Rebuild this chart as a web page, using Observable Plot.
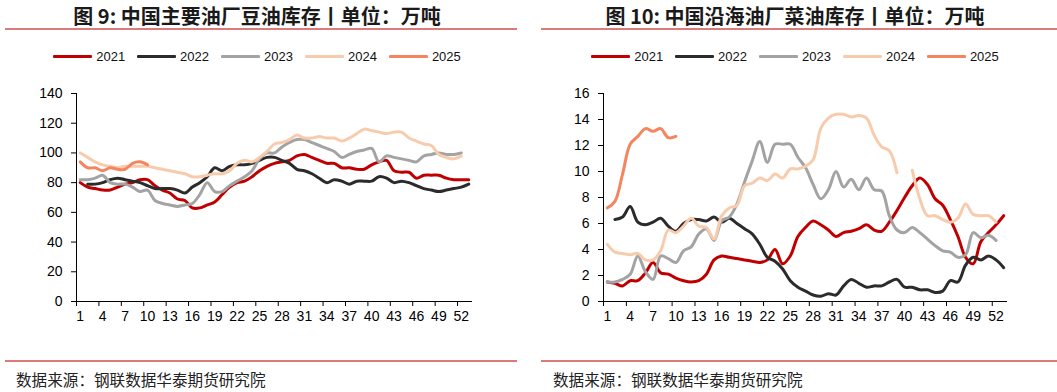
<!DOCTYPE html>
<html><head><meta charset="utf-8">
<script src="https://cdn.jsdelivr.net/npm/d3@7"></script>
<script src="https://cdn.jsdelivr.net/npm/@observablehq/plot@0.6"></script>
<style>
body{margin:0;background:#fff;}
#root{position:relative;width:1057px;height:392px;overflow:hidden;background:#fff;}
.title{position:absolute;top:3px;font-family:"Noto Sans CJK SC";font-weight:bold;font-size:20px;line-height:26px;color:#1a1a1a;text-align:center;white-space:nowrap;}
.rule{position:absolute;height:2px;background:#dc7b7b;}
.legend{position:absolute;top:47px;height:18px;display:flex;justify-content:center;align-items:center;font-family:"Liberation Sans",Arial,sans-serif;font-size:13px;color:#111;}
.legend .item{display:flex;align-items:center;margin:0 6px;}
.legend .sw{display:inline-block;width:39px;height:3px;margin-right:4px;border-radius:1px;}
.src{position:absolute;top:369px;font-family:"Noto Sans CJK SC";font-size:15.6px;line-height:20px;color:#222;white-space:nowrap;}
.chart{position:absolute;top:80px;}
</style>
</head><body>
<div id="root"></div>
<script>
// ---------- data ----------
const years = ["2021", "2022", "2023", "2024", "2025"];
const colors = ["#C00000", "#2B2B2B", "#A3A3A3", "#F8CBAD", "#F4865F"];
const weeks = d3.range(1, 54);
const xTickLabels = [1, 4, 7, 10, 13, 16, 19, 22, 25, 28, 31, 34, 37, 40, 43, 46, 49, 52];
const soyYTicks = [0, 20, 40, 60, 80, 100, 120, 140];
const rapeYTicks = [0, 2, 4, 6, 8, 10, 12, 14, 16];

// Figure 9: soybean oil inventory (10k t), weeks 1-53
const soy2021 = [80,77,76,75,75,77,79,80,82,82, 78,75,73,69,68,63,63,65,67,72, 77,80,81,84,88,91,93,94,95,98, 99,97,95,93,93,90,90,89,89,92, 94,95,88,87,87,83,85,85,85,83, 82,82,82];
const soy2022 = [null,79,79,80,82,83,82,81,80,78, 76,76,76,75,73,77,80,84,90,88, 91,92,92,93,95,97,97,95,93,89, 88,86,83,80,82,81,79,81,81,81, 84,83,80,81,80,78,76,75,74,75, 76,77,79];
const soy2023 = [82,82,83,85,80,79,79,77,74,75, 68,66,65,64,65,66,72,80,74,74, 78,81,84,88,96,100,100,104,107,109, 109,107,105,103,101,97,99,101,102,103, 94,98,97,96,95,94,98,99,100,99, 99,100,null];
const soy2024 = [100,97,94,92,91,90,91,91,91,91, 90,89,88,87,86,84,84,85,86,86, 88,93,95,94,97,101,106,107,109,112, 110,110,111,110,110,108,110,113,116,115, 114,113,114,114,110,108,106,105,99,97, 96,98,null];
const soy2025 = [94,90,90,88,90,89,89,93,94,92];

// Figure 10: rapeseed oil inventory (10k t), weeks 1-53
const rape2021 = [1.5,1.4,1.2,1.6,1.6,2.2,3.0,2.2,2.1,1.8, 1.6,1.5,1.6,2.1,3.2,3.5,3.4,3.3,3.2,3.1, 3.0,3.2,4.0,2.9,3.5,5.0,5.7,6.2,5.9,5.5, 5.0,5.3,5.4,5.6,5.9,5.5,5.4,6.1,7.0,8.0, 8.9,9.5,9.0,7.9,7.4,6.3,5.0,3.4,2.9,4.6, 5.3,5.9,6.6];
const rape2022 = [null,6.3,6.5,7.3,6.1,5.9,6.1,6.4,5.8,5.4, 6.0,6.3,6.3,6.2,6.5,6.1,6.4,6.0,5.6,5.2, 4.4,3.4,3.1,2.5,1.6,1.1,0.8,0.5,0.4,0.6, 0.5,1.2,1.7,1.4,1.1,1.2,1.2,1.5,1.7,1.1, 1.1,0.9,0.9,0.7,0.8,1.6,1.5,2.8,3.4,3.2, 3.5,3.2,2.6];
const rape2023 = [1.5,1.5,1.7,2.1,3.5,2.3,1.7,3.5,3.3,3.0, 3.9,4.2,5.2,5.6,4.7,6.2,6.5,7.5,9.2,10.8, 12.3,10.7,12.1,12.1,12.1,11.1,10.3,9.0,7.9,8.6, 10.0,8.8,9.4,8.6,9.5,8.6,8.5,6.6,5.5,5.3, 5.7,5.3,4.8,4.3,3.9,3.8,3.4,3.6,5.3,4.9, 5.1,4.7,null];
const rape2024 = [4.4,3.8,3.7,3.6,3.7,3.2,3.2,3.9,5.5,5.3, 5.8,6.4,5.8,5.7,4.8,6.6,7.2,7.4,8.9,9.1, 9.5,9.3,9.8,9.5,10.2,10.2,10.4,10.9,13.3,14.1, 14.4,14.4,14.2,14.3,14.1,12.8,11.9,11.6,9.9,null, 10.1,7.9,6.6,6.6,6.3,6.1,6.4,7.5,6.7,6.6, 6.6,6.1,null];
const rape2025 = [7.2,7.7,9.8,12.1,12.7,13.3,13.1,13.3,12.6,12.7];

const panels = [
  {left: 5, right: 509, plotLeft: 0, plotWidth: 528, mL: 76, mR: 56,
   title: "图 9: 中国主要油厂豆油库存丨单位：万吨", yTicks: soyYTicks, yMax: 140,
   series: [soy2021, soy2022, soy2023, soy2024, soy2025], srcX: 16},
  {left: 541, right: 1049, plotLeft: 528, plotWidth: 529, mL: 75, mR: 50,
   title: "图 10: 中国沿海油厂菜油库存丨单位：万吨", yTicks: rapeYTicks, yMax: 16,
   series: [rape2021, rape2022, rape2023, rape2024, rape2025], srcX: 553}
];

const root = document.getElementById("root");
const boundaryTicks = xTickLabels.map(d => d - 0.5);

for (const p of panels) {
  const t = document.createElement("div");
  t.className = "title";
  t.style.left = p.left + "px"; t.style.width = (p.right - p.left) + "px";
  t.textContent = p.title;
  root.appendChild(t);

  const r1 = document.createElement("div");
  r1.className = "rule"; r1.style.left = p.left + "px"; r1.style.top = "28px";
  r1.style.width = (Math.min(p.right + 8, 1057) - p.left) + "px";
  root.appendChild(r1);

  const lg = document.createElement("div");
  lg.className = "legend";
  lg.style.left = p.left + "px"; lg.style.width = (p.right - p.left) + "px";
  years.forEach((y, i) => {
    const it = document.createElement("span"); it.className = "item";
    const sw = document.createElement("span"); sw.className = "sw"; sw.style.background = colors[i];
    it.appendChild(sw); it.appendChild(document.createTextNode(y));
    lg.appendChild(it);
  });
  root.appendChild(lg);

  const rows = [];
  p.series.forEach((arr, i) => {
    weeks.forEach((w, j) => {
      const v = j < arr.length ? arr[j] : null;
      rows.push({year: years[i], week: w, value: v});
    });
  });

  const chart = Plot.plot({
    width: p.plotWidth, height: 250,
    marginLeft: p.mL, marginRight: p.mR, marginTop: 13, marginBottom: 29,
    x: {domain: [0.5, 53.5], label: null},
    y: {domain: [0, p.yMax], label: null},
    color: {domain: years, range: colors},
    style: {fontFamily: "'Liberation Sans', Arial, sans-serif", fontSize: "14px", color: "#000", background: "transparent", overflow: "visible"},
    marks: [
      Plot.axisY({ticks: p.yTicks, tickSize: 5, tickPadding: 9, label: null, tickFormat: d => String(d)}),
      Plot.axisX({ticks: boundaryTicks, tickSize: 5, tickFormat: () => "", label: null}),
      Plot.axisX({ticks: xTickLabels, tickSize: 0, tickPadding: 10, label: null, tickFormat: d => String(d)}),
      Plot.ruleX([0.5], {stroke: "#000"}),
      Plot.ruleY([0], {stroke: "#000"}),
      Plot.line(rows, {x: "week", y: "value", z: "year", stroke: "year", strokeWidth: 3, curve: "catmull-rom"})
    ]
  });
  chart.classList.add("chart");
  chart.style.left = p.plotLeft + "px";
  chart.style.position = "absolute";
  chart.style.top = "80px";
  root.appendChild(chart);

  const r2 = document.createElement("div");
  r2.className = "rule"; r2.style.left = p.left + "px"; r2.style.top = "360px";
  r2.style.width = (Math.min(p.right + 8, 1057) - p.left) + "px";
  root.appendChild(r2);

  const s = document.createElement("div");
  s.className = "src"; s.style.left = p.srcX + "px";
  s.textContent = "数据来源：钢联数据华泰期货研究院";
  root.appendChild(s);
}
</script>
</body></html>
